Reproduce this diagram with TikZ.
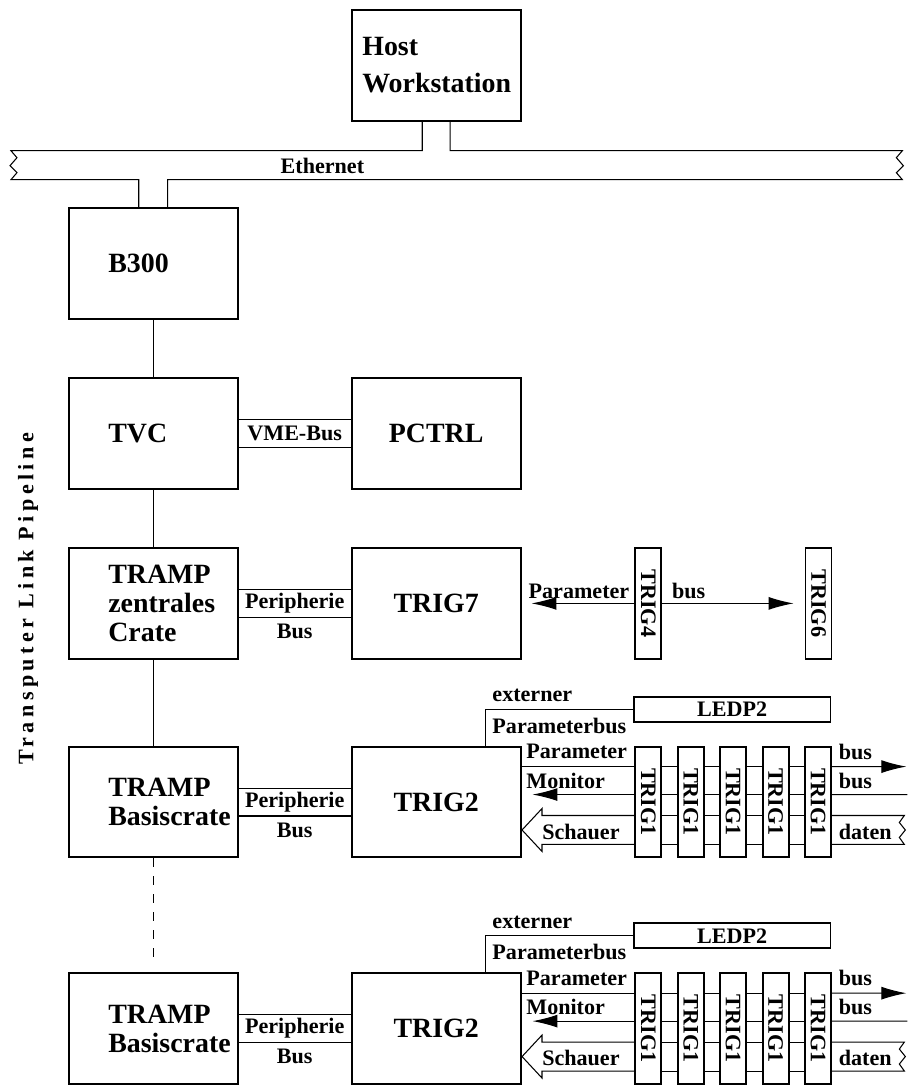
\documentclass[tikz,border=0pt]{standalone}
\usepackage{fontspec}
\setmainfont{Liberation Serif}
\usepackage{graphicx}
\usetikzlibrary{arrows.meta,positioning}
\hyphenpenalty=10000
\exhyphenpenalty=10000
\newcommand{\boxfont}{\fontsize{15.9}{16.5}\selectfont\bfseries}
\newcommand{\labfont}{\fontsize{12.6}{15}\selectfont\bfseries}
\tikzset{
  unit/.style={draw, line width=1.1pt, minimum width=3.38cm, minimum height=2.22cm, inner sep=0pt, font=\boxfont},
  crate/.style={unit, text width=1.8cm, align=left},
  card/.style={draw, line width=1.1pt, minimum width=0.52cm, minimum height=2.22cm, inner sep=0pt, font=\labfont},
  lbl/.style={inner sep=0pt, font=\labfont},
  wire/.style={line width=0.6pt},
  sig/.style={wire, -{Latex[length=5mm,width=2.6mm]}},
}

\begin{document}
\begin{tikzpicture}[x=0.2mm, y=-0.2mm]
\useasboundingbox (0,0) rectangle (909,1087);

% host, ethernet
\node[unit, align=left] (host) at (437.5,65.5) {Host\\[4.5pt]Workstation};
\node[crate] (b300) at (153.5,264) {B300};
\draw[wire] (423,0 |- host.south) -- (423,151) -- (11,151) -- (17,158) -- (10,166) -- (17,173) -- (11,180) -- (139,180) -- (139,0 |- b300.north);
\draw[wire] (451,0 |- host.south) -- (451,151) -- (904,151) -- (898,158) -- (905,166) -- (898,173) -- (904,180) -- (168,180) -- (168,0 |- b300.north);
\node[lbl] (eth) at (323,166) {Ethernet};

% VME crate
\node[crate] (tvc) at (153.5,434.5) {TVC};
\node[unit] (pctrl) at (437,434.5) {PCTRL};
\draw[wire] (b300) -- (tvc);
\draw[wire] ([yshift=2.8mm]tvc.east) -- ([yshift=2.8mm]pctrl.west);
\draw[wire] ([yshift=-2.8mm]tvc.east) -- ([yshift=-2.8mm]pctrl.west);
\path (tvc) -- (pctrl) node[lbl, midway] (vme) {VME-Bus};

% zentrales Crate
\node[crate] (tramp0) at (153.5,604.5) {TRAMP\\zentrales\\Crate};
\node[unit] (trig7) at (437,604.5) {TRIG7};
\draw[wire] (tvc) -- (tramp0);
\draw[wire] ([yshift=2.8mm]tramp0.east) -- ([yshift=2.8mm]trig7.west);
\draw[wire] ([yshift=-2.8mm]tramp0.east) -- ([yshift=-2.8mm]trig7.west);
\path (tramp0) -- (trig7) node[lbl, midway] (per0) {Peripherie};
\node[lbl, below=2mm of per0] (bus0) {Bus};
\node[card] (trig4) at (649.5,604.5) {\rotatebox{-90}{TRIG4}};
\node[card] (trig6) at (820,604.5) {\rotatebox{-90}{TRIG6}};
\draw[sig, shorten >=2mm] (trig4) -- (trig7);
\draw[sig, shorten >=2.2mm] (trig4) -- (trig6);
\node[lbl] (par0) at (580,592) {Parameter};
\node[lbl, anchor=west] (pbus0) at (673,592) {bus};

\node[lbl, rotate=90] (pipe) at (28,600) {\addfontfeature{LetterSpace=20}Transputer Link Pipeline};

% Basiscrates
\foreach \blk/\dy in {a/0,b/227}{
  \node[crate] (tramp\blk) at (153.5,{803.5+\dy}) {TRAMP\\Basiscrate};
  \node[unit] (trig2\blk) at (437,{803.5+\dy}) {TRIG2};
  \draw[wire] ([yshift=2.8mm]tramp\blk.east) -- ([yshift=2.8mm]trig2\blk.west);
  \draw[wire] ([yshift=-2.8mm]tramp\blk.east) -- ([yshift=-2.8mm]trig2\blk.west);
  \path (tramp\blk) -- (trig2\blk) node[lbl, midway] (per\blk) {Peripherie};
  \node[lbl, below=2mm of per\blk] (bus\blk) {Bus};
  \node[draw, line width=1.1pt, minimum width=3.94cm, minimum height=0.5cm, inner sep=0pt, font=\labfont] (ledp\blk) at (733.5,{710.5+\dy}) {LEDP2};
  \draw[wire] (486,0 |- trig2\blk.north) |- (ledp\blk.west);
  \node[lbl, anchor=west] (ext\blk) at (493,{697+\dy}) {externer};
  \node[lbl, anchor=west] (extp\blk) at (493,{727+\dy}) {Parameterbus};
  \foreach \i in {1,...,5}
    \node[card] (t\blk\i) at ({607+42.5*\i},{803.5+\dy}) {\rotatebox{-90}{TRIG1}};
  \foreach \i/\j in {1/2,2/3,3/4,4/5}
    \foreach \s in {7.1mm,1.5mm,-2.7mm,-8.5mm}
      \draw[wire] ([yshift=\s]t\blk\i.east) -- ([yshift=\s]t\blk\j.west);
  % parameter bus
  \coordinate (pout\blk) at (908,{768+\dy});
  \draw[wire] ([yshift=7.1mm]trig2\blk.east) -- ([yshift=7.1mm]t\blk1.west);
  \draw[sig] ([yshift=7.1mm]t\blk5.east) -- (pout\blk);
  % monitor bus
  \coordinate (mout\blk) at (909,{796+\dy});
  \draw[sig, shorten >=2.2mm] ([yshift=1.5mm]t\blk1.west) -- ([yshift=1.5mm]trig2\blk.east);
  \draw[wire] ([yshift=1.5mm]t\blk5.east) -- (mout\blk);
  % schauer daten
  \draw[wire] ([yshift=-2.7mm]t\blk1.west) -- (543,{817+\dy}) -- (543,{810+\dy}) -- (523,{831.5+\dy}) -- (543,{853+\dy}) -- (543,{846+\dy}) -- ([yshift=-8.5mm]t\blk1.west);
  \draw[wire] ([yshift=-2.7mm]t\blk5.east) -- (906,{817+\dy}) -- (901,{824+\dy}) -- (907,{831.5+\dy}) -- (901,{839+\dy}) -- (906,{846+\dy}) -- ([yshift=-8.5mm]t\blk5.east);
  \node[lbl, anchor=west] (par\blk) at (527,{753+\dy}) {Parameter};
  \node[lbl, anchor=west] (mon\blk) at (527,{782+\dy}) {Monitor};
  \node[lbl] (sch\blk) at (582,{833+\dy}) {Schauer};
  \node[lbl, anchor=west] (pb\blk) at (840,{753+\dy}) {bus};
  \node[lbl, anchor=west] (mb\blk) at (840,{782+\dy}) {bus};
  \node[lbl, anchor=west] (dat\blk) at (840,{833+\dy}) {daten};
}
\draw[wire] (tramp0) -- (trampa);
\draw[wire, dash pattern=on 1.8mm off 1.8mm, shorten >=2.2mm] (trampa) -- (trampb);
\end{tikzpicture}
\end{document}
